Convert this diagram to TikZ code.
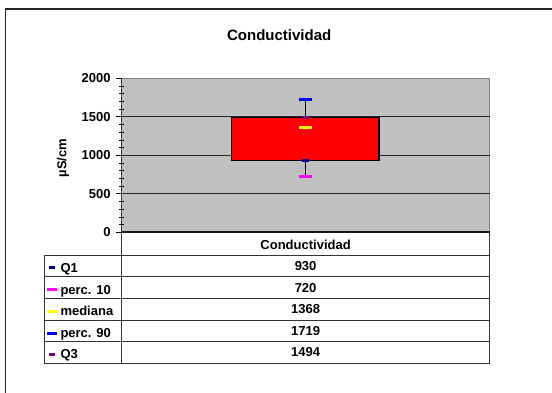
\documentclass[tikz,border=0pt]{standalone}
\usepackage{fontspec}
\setmainfont{Liberation Sans}
\definecolor{plotgray}{HTML}{C0C0C0}
\definecolor{navyq}{HTML}{000080}
\definecolor{purpq}{HTML}{800080}
\definecolor{magq}{HTML}{FF00FF}
\definecolor{yelq}{HTML}{FFFF00}
\definecolor{bluq}{HTML}{0000FF}
\definecolor{redq}{HTML}{FF0000}
\begin{document}
\begin{tikzpicture}[x=1pt,y=-1pt,
  lbl/.style={font=\fontsize{13}{15}\selectfont\bfseries, inner sep=0pt},
  ttl/.style={font=\fontsize{15}{18}\selectfont\bfseries, inner sep=0pt},
  gridln/.style={line width=0.9pt, draw=black!85},
  tblln/.style={line width=0.9pt, draw=black!80},
  mk/.style={line width=3pt},
]
\useasboundingbox (0,0) rectangle (552,392);
\clip (0,0) rectangle (552,392);
% outer frame
\draw[line width=1.5pt, draw=black!85] (5.3,9) rectangle (600,450);
% title
\node[ttl, anchor=base] (title) at (279.2,40.7) {Conductividad};
% plot area
\fill[plotgray] (121.5,78.3) rectangle (489.7,232.3);
\draw[line width=0.9pt, draw=black!50] (121.5,78.3) -- (489.7,78.3) -- (489.7,232.3);
\foreach \yy in {116.8,155.3,193.8} \draw[gridln] (121.5,\yy) -- (489.7,\yy);
% y axis and ticks
\draw[line width=1pt, draw=black!80] (121.5,78.3) -- (121.5,363);
\foreach \yy in {78.3,116.8,155.3,193.8,232.3} \draw[line width=1pt] (116,\yy) -- (121.5,\yy);
\foreach \k in {1,2,3,4,6,7,8,9,11,12,13,14,16,17,18,19}
  \draw[line width=0.8pt] (119,{232.3-7.7*\k}) -- (124,{232.3-7.7*\k});
% tick labels
\node[lbl, anchor=base east] (t2000) at (110.7,82.9) {2000};
\node[lbl, anchor=base east] (t1500) at (110.7,121.4) {1500};
\node[lbl, anchor=base east] (t1000) at (110.7,159.9) {1000};
\node[lbl, anchor=base east] (t500) at (110.7,198.4) {500};
\node[lbl, anchor=base east] (t0) at (110.7,236.9) {0};
\node[lbl, rotate=90] (ylab) at (63,158) {µS/cm};
% x axis
\draw[line width=1.8pt, draw=black!90] (121.5,232.3) -- (489.7,232.3);
% whisker and box
\draw[line width=1pt] (305.3,99.9) -- (305.3,176.9);
\draw[fill=redq, line width=1.2pt] (231.3,117.3) rectangle (379,160.6);
\draw[mk, bluq] (298.5,99.9) -- (312.1,99.9);
\draw[mk, purpq] (301.7,117.3) -- (309,117.3);
\draw[mk, yelq] (298.5,127) -- (312.1,127);
\draw[mk, navyq] (301.7,160.6) -- (309,160.6);
\draw[mk, magq] (298.5,176.9) -- (312.1,176.9);
% table
\draw[tblln] (489.7,232.3) -- (489.7,363);
\draw[tblln] (44.3,255) -- (44.3,363);
\foreach \yy in {255,276.7,298.3,320.3,341.7,363} \draw[tblln] (44.3,\yy) -- (489.7,\yy);
\node[lbl, anchor=base] (hdr) at (305.6,249) {Conductividad};
\node[lbl, anchor=base] (v1) at (305.6,270.4) {930};
\node[lbl, anchor=base] (v2) at (305.6,292.1) {720};
\node[lbl, anchor=base] (v3) at (305.6,313.9) {1368};
\node[lbl, anchor=base] (v4) at (305.6,335.6) {1719};
\node[lbl, anchor=base] (v5) at (305.6,356.9) {1494};
% legend
\draw[mk, navyq] (49.3,267.8) -- (55.3,267.8);
\draw[mk, magq] (47.3,289.5) -- (56.7,289.5);
\draw[mk, yelq] (47.3,311.3) -- (56.7,311.3);
\draw[mk, bluq] (47.3,333) -- (56.7,333);
\draw[mk, purpq] (49.3,354.3) -- (55.3,354.3);
\node[lbl, anchor=base west] (l1) at (60.3,272.4) {Q1};
\node[lbl, anchor=base west] (l2) at (60.3,294.1) {perc. 10};
\node[lbl, anchor=base west] (l3) at (60.3,315.9) {mediana};
\node[lbl, anchor=base west] (l4) at (60.3,337.6) {perc. 90};
\node[lbl, anchor=base west] (l5) at (60.3,358.9) {Q3};
\end{tikzpicture}
\end{document}
